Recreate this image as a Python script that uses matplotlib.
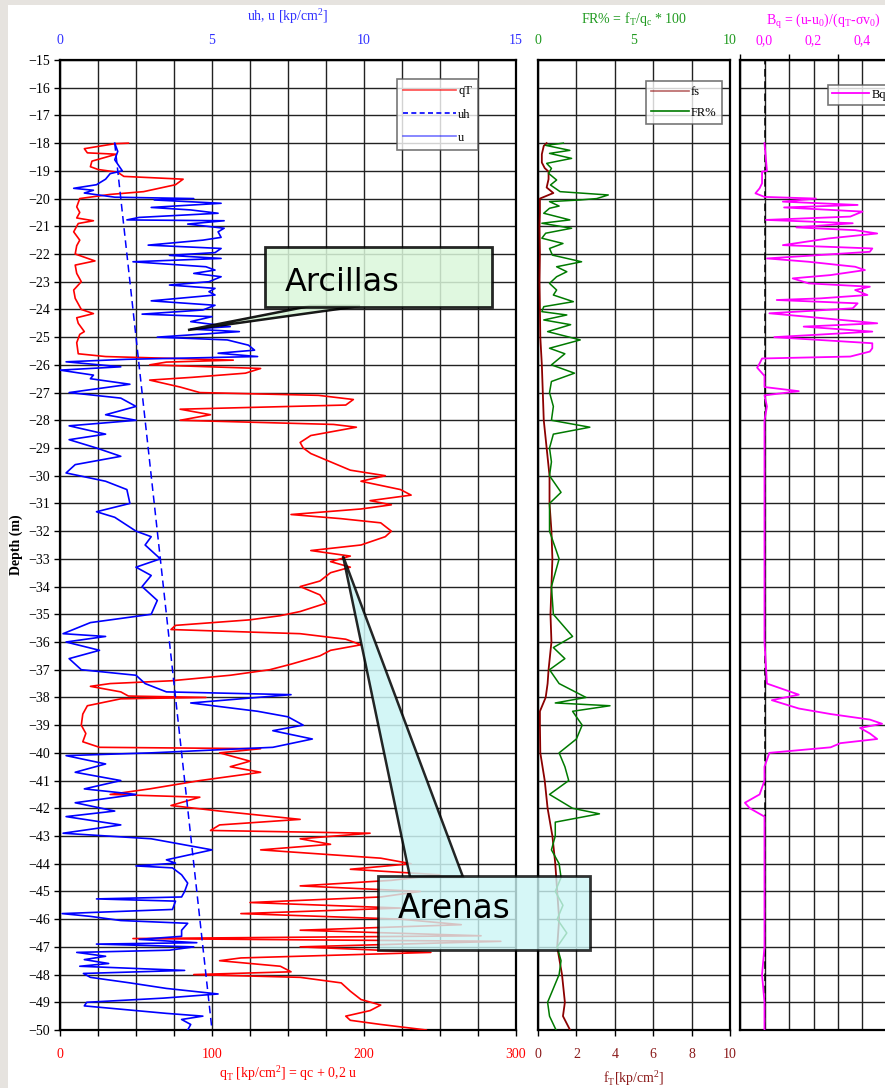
import numpy as np
import matplotlib
matplotlib.use("Agg")
import matplotlib.pyplot as plt
from matplotlib.patches import Polygon, Rectangle
from matplotlib.lines import Line2D

# ---------------- CPTu sounding data ----------------
# cone resistance qT [kp/cm2]
qt_depth = [-18.00, -18.02, -18.20, -18.35, -18.40, -18.65, -18.85, -18.95, -19.05, -19.20,
            -19.30, -19.50, -19.75, -19.85, -20.00, -20.30, -20.50, -20.70, -20.80, -20.90,
            -21.20, -21.50, -21.70, -22.00, -22.25, -22.40, -22.70, -23.00, -23.30, -23.60,
            -24.00, -24.15, -24.30, -24.50, -24.80, -24.90, -25.20, -25.60, -25.70, -25.83,
            -25.90, -26.00, -26.13, -26.30, -26.45, -26.55, -26.80, -27.00, -27.10, -27.25,
            -27.45, -27.60, -27.80, -28.00, -28.15, -28.25, -28.40, -28.55, -28.80, -29.00,
            -29.20, -29.50, -29.80, -30.00, -30.20, -30.50, -30.70, -30.90, -31.05, -31.20,
            -31.40, -31.55, -31.70, -32.00, -32.20, -32.50, -32.70, -32.90, -33.10, -33.30,
            -33.50, -33.80, -34.00, -34.30, -34.60, -34.90, -35.05, -35.20, -35.40, -35.55,
            -35.70, -35.90, -36.10, -36.30, -36.50, -36.80, -37.00, -37.20, -37.40, -37.50,
            -37.60, -37.80, -37.95, -38.00, -38.05, -38.30, -38.60, -39.00, -39.30, -39.60,
            -39.80, -39.85, -40.00, -40.30, -40.50, -40.70, -41.00, -41.30, -41.50, -41.60,
            -41.90, -42.10, -42.40, -42.60, -42.80, -42.90, -43.10, -43.30, -43.50, -43.80,
            -44.00, -44.20, -44.40, -44.60, -44.80, -45.00, -45.20, -45.40, -45.60, -45.80,
            -46.00, -46.20, -46.40, -46.60, -46.70, -46.80, -47.00, -47.20, -47.40, -47.50,
            -47.70, -47.90, -48.00, -48.10, -48.30, -48.60, -48.90, -49.10, -49.30, -49.50,
            -49.65, -49.80, -50.00]
qt_vals = [45, 36, 16, 18, 37, 21, 20, 25, 38, 42,
           81, 76, 55, 33, 13, 11, 13, 11, 22, 12,
           9, 13, 11, 10, 23, 10, 11, 14, 9, 10,
           14, 22, 11, 12, 16, 13, 11, 12, 30, 114,
           70, 59, 132, 122, 87, 59, 79, 92, 170, 193,
           188, 79, 99, 79, 180, 195, 180, 165, 158, 160,
           165, 178, 191, 214, 198, 224, 231, 204, 218, 198,
           152, 185, 211, 218, 214, 198, 165, 191, 178, 191,
           178, 171, 158, 171, 175, 158, 145, 125, 76, 73,
           158, 188, 198, 178, 171, 152, 138, 112, 73, 33,
           20, 40, 45, 96, 40, 18, 15, 14, 17, 15,
           26, 132, 105, 125, 112, 132, 92, 59, 33, 92,
           73, 105, 158, 105, 99, 204, 158, 178, 132, 211,
           231, 191, 250, 218, 158, 237, 211, 125, 224, 119,
           224, 264, 158, 277, 48, 290, 158, 244, 119, 105,
           145, 152, 88, 158, 185, 191, 198, 211, 204, 188,
           191, 211, 241]

# pore pressure u [kp/cm2]
u_depth = [-18.00, -18.30, -18.60, -19.00, -19.10, -19.30, -19.50, -19.63, -19.70, -19.80,
           -19.95, -20.00, -20.05, -20.17, -20.32, -20.41, -20.53, -20.68, -20.77, -20.80,
           -20.92, -21.07, -21.20, -21.40, -21.50, -21.68, -21.80, -21.95, -22.05, -22.16,
           -22.28, -22.46, -22.58, -22.70, -22.82, -23.00, -23.12, -23.24, -23.36, -23.48,
           -23.69, -23.85, -24.02, -24.17, -24.26, -24.44, -24.62, -24.71, -24.80, -25.00,
           -25.10, -25.29, -25.47, -25.58, -25.70, -25.80, -25.89, -26.07, -26.19, -26.37,
           -26.50, -26.70, -27.00, -27.20, -27.50, -27.80, -28.00, -28.20, -28.50, -28.70,
           -29.00, -29.30, -29.60, -29.90, -30.20, -30.50, -31.00, -31.30, -31.50, -32.00,
           -32.20, -32.50, -33.00, -33.30, -33.60, -34.00, -34.50, -35.00, -35.30, -35.70,
           -35.80, -36.00, -36.30, -36.60, -37.00, -37.20, -37.50, -37.80, -37.90, -38.20,
           -38.50, -38.70, -39.00, -39.20, -39.50, -39.80, -40.00, -40.10, -40.40, -40.70,
           -41.00, -41.30, -41.50, -41.80, -42.10, -42.30, -42.60, -42.90, -43.10, -43.50,
           -43.86, -43.98, -44.08, -44.15, -44.40, -44.70, -45.00, -45.20, -45.27, -45.35,
           -45.65, -45.80, -45.90, -46.05, -46.15, -46.40, -46.62, -46.73, -46.85, -46.90,
           -47.00, -47.12, -47.20, -47.34, -47.46, -47.60, -47.70, -47.85, -47.96, -48.10,
           -48.30, -48.50, -48.70, -48.85, -49.00, -49.13, -49.40, -49.50, -49.62, -49.80,
           -50.00]
u_vals = [1.8, 1.9, 1.8, 2.05, 1.65, 1.5, 1.2, 0.45, 1.1, 0.8,
          1.8, 4.4, 3.1, 5.3, 3.0, 4.3, 5.2, 2.6, 2.2, 5.4,
          4.2, 5.4, 5.2, 5.3, 4.7, 2.9, 5.3, 5.1, 3.6, 5.3,
          2.4, 4.8, 5.1, 4.4, 5.3, 4.9, 3.6, 5.1, 4.9, 5.1,
          3.0, 5.1, 4.7, 2.7, 5.0, 4.3, 5.6, 4.3, 5.9, 3.2,
          5.5, 6.2, 6.4, 5.2, 6.5, 2.2, 0.2, 2.0, 0.0, 1.1,
          1.0, 2.3, 0.3, 2.0, 2.5, 1.5, 2.5, 0.3, 1.5, 0.3,
          1.2, 2.0, 0.5, 0.2, 1.5, 2.2, 2.3, 1.2, 1.8, 2.5,
          3.0, 2.8, 3.3, 2.5, 3.0, 2.7, 3.2, 3.0, 1.0, 0.1,
          1.5, 0.2, 1.3, 0.3, 0.7, 2.5, 2.8, 3.5, 7.6, 4.3,
          6.5, 7.5, 8.0, 7.0, 8.3, 7.0, 3.0, 0.2, 1.5, 0.5,
          2.0, 0.8, 2.5, 0.5, 1.8, 0.2, 2.0, 0.1, 3.0, 5.0,
          3.5, 3.8, 2.5, 3.7, 4.0, 4.2, 4.1, 4.0, 1.2, 3.8,
          3.7, 0.07, 1.0, 2.0, 4.2, 4.0, 4.0, 2.6, 4.5, 1.2,
          4.4, 3.6, 0.55, 1.5, 0.8, 1.6, 0.65, 4.1, 0.77, 1.0,
          2.3, 3.5, 5.2, 3.4, 0.88, 0.8, 3.5, 4.7, 4.0, 4.3,
          4.2]

# hydrostatic pressure uh [kp/cm2]
uh_depth = [-18.0, -50.0]
uh_vals = [1.8, 5.0]

# sleeve friction fs [kp/cm2]
fs_depth = [-18.0, -18.1, -18.4, -18.7, -18.9, -19.03, -19.3, -19.6, -19.8, -20.0,
            -20.5, -21.0, -22.0, -23.0, -24.0, -25.0, -26.0, -27.0, -28.0, -29.0,
            -30.0, -31.0, -32.0, -33.0, -34.0, -35.0, -36.0, -37.0, -37.5, -38.0,
            -38.5, -39.0, -40.0, -41.0, -42.0, -43.0, -44.0, -45.0, -46.0, -47.0,
            -48.0, -49.0, -49.5, -50.0]
fs_vals = [0.45, 0.3, 0.2, 0.2, 0.35, 0.55, 0.55, 0.45, 0.8, 0.1,
           0.1, 0.08, 0.1, 0.08, 0.1, 0.12, 0.2, 0.25, 0.3, 0.45,
           0.6, 0.6, 0.7, 0.75, 0.7, 0.65, 0.7, 0.55, 0.5, 0.4,
           0.1, 0.1, 0.12, 0.35, 0.5, 0.75, 0.9, 1.0, 1.1, 1.0,
           1.25, 1.4, 1.3, 1.67]

# friction ratio FR [%]
fr_depth = [-18.00, -18.08, -18.26, -18.37, -18.55, -18.73, -18.91, -19.09, -19.33, -19.51,
            -19.75, -19.87, -20.00, -20.05, -20.11, -20.27, -20.35, -20.53, -20.77, -20.89,
            -21.07, -21.25, -21.43, -21.62, -21.80, -22.04, -22.28, -22.46, -22.64, -22.82,
            -23.06, -23.30, -23.48, -23.72, -23.90, -24.08, -24.20, -24.38, -24.55, -24.80,
            -25.10, -25.40, -25.60, -26.00, -26.30, -26.60, -27.00, -27.50, -28.00, -28.25,
            -28.50, -29.00, -29.50, -30.00, -30.60, -31.00, -32.00, -33.00, -34.00, -35.00,
            -35.80, -36.20, -36.60, -37.00, -37.50, -38.00, -38.20, -38.30, -38.50, -39.00,
            -39.50, -40.00, -40.50, -41.00, -41.50, -42.00, -42.20, -42.50, -43.00, -43.50,
            -44.00, -44.50, -45.00, -45.50, -46.00, -46.50, -47.00, -47.50, -48.00, -48.50,
            -49.00, -49.50, -50.00]
fr_vals = [1.32, 0.4, 1.66, 0.6, 1.75, 0.45, 0.7, 0.55, 0.97, 0.65,
           1.15, 3.66, 3.06, 2.2, 0.6, 1.1, 0.6, 0.3, 1.66, 0.2,
           1.75, 0.4, 0.2, 1.3, 0.6, 0.75, 2.27, 0.97, 1.5, 0.97,
           0.6, 0.97, 0.8, 1.84, 0.3, 0.2, 1.5, 0.3, 1.7, 0.5,
           2.2, 0.6, 1.4, 0.7, 1.9, 0.7, 0.6, 0.8, 0.7, 2.7,
           0.8, 0.6, 0.7, 0.6, 1.2, 0.6, 0.6, 1.1, 0.7, 0.8,
           1.8, 0.8, 1.4, 0.6, 1.1, 2.5, 0.9, 3.75, 1.8, 2.3,
           2.0, 1.1, 1.4, 1.6, 0.6, 1.8, 3.2, 0.9, 0.9, 0.7,
           1.1, 1.2, 0.9, 1.3, 1.0, 1.5, 1.0, 1.2, 1.1, 0.8,
           0.5, 0.6, 0.94]

# pore pressure ratio Bq [-]
bq_depth = [-18.0, -18.5, -19.0, -19.03, -19.45, -19.63, -19.81, -19.94, -20.00, -20.11,
            -20.23, -20.32, -20.47, -20.65, -20.77, -20.89, -21.04, -21.14, -21.26, -21.44,
            -21.68, -21.80, -21.92, -22.16, -22.28, -22.46, -22.58, -22.76, -22.88, -23.06,
            -23.18, -23.30, -23.48, -23.60, -23.66, -23.78, -23.96, -24.14, -24.26, -24.50,
            -24.62, -24.80, -25.00, -25.22, -25.40, -25.52, -25.70, -25.77, -25.95, -26.10,
            -26.40, -26.80, -26.95, -27.10, -27.50, -28.00, -29.00, -30.00, -32.00, -34.00,
            -36.00, -37.50, -37.90, -38.10, -38.40, -38.60, -38.80, -38.95, -39.10, -39.30,
            -39.50, -39.65, -39.80, -40.00, -40.50, -41.00, -41.50, -41.80, -42.00, -42.30,
            -43.00, -45.00, -47.00, -48.00, -49.00, -50.00]
bq_vals = [0.0, 0.005, 0.01, -0.01, -0.01, -0.02, -0.037, 0.0, 0.21, 0.075,
           0.38, 0.08, 0.40, 0.35, 0.006, 0.36, 0.13, 0.37, 0.46, 0.26,
           0.075, 0.44, 0.43, 0.01, 0.18, 0.37, 0.41, 0.27, 0.115, 0.18,
           0.43, 0.37, 0.42, 0.23, 0.05, 0.38, 0.36, 0.02, 0.17, 0.46,
           0.16, 0.44, 0.04, 0.44, 0.44, 0.43, 0.35, -0.01, -0.02, -0.03,
           0.0, 0.0, 0.14, 0.0, 0.01, 0.0, 0.0, 0.0, 0.0, 0.0,
           0.0, 0.01, 0.14, 0.03, 0.14, 0.27, 0.43, 0.48, 0.39, 0.43,
           0.46, 0.31, 0.27, 0.02, 0.0, 0.0, -0.02, -0.08, -0.06, 0.0,
           0.0, 0.0, 0.0, -0.01, 0.0, 0.0]

# axis ticks
depth_ticks = list(range(-15, -51, -1))
qt_ticks = [0, 100, 200, 300]
u_ticks = [0, 5, 10, 15]
fr_ticks = [0, 5, 10]
ft_ticks = [0, 2, 4, 6, 8, 10]
bq_ticks = [0.0, 0.2, 0.4]

# ---------------- figure ----------------
W, H = 885, 1088
plt.rcParams['font.family'] = ['Liberation Serif', 'DejaVu Serif']
plt.rcParams['font.size'] = 10
fig = plt.figure(figsize=(W / 100, H / 100), dpi=100)
fig.patch.set_facecolor('white')


def fx(x):
    return x / W


def fy(y):
    return 1 - y / H


def box(x0, y0, x1, y1):
    return [fx(x0), fy(y1), fx(x1) - fx(x0), fy(y0) - fy(y1)]


C_RED = '#ff0000'
C_BLUE = '#0000ff'
C_BLUE_TXT = '#3030ff'
C_GREEN = '#007a00'
C_GREEN_TXT = '#1f9a1f'
C_FS = '#8b0000'
C_FS_TXT = '#8b1a1a'
C_MAG = '#ff00ff'
GRID = '#222222'

top_px, bot_px = 60, 1030


def style_axes(ax):
    ax.set_ylim(-50, -15)
    ax.set_yticks(depth_ticks)
    ax.grid(True, which='both', color=GRID, linewidth=1.0)
    ax.set_axisbelow(True)
    for s in ax.spines.values():
        s.set_linewidth(1.6)
        s.set_color('black')
    ax.tick_params(axis='both', which='both', direction='out', length=4, width=1.0)


# --- panel 1: qT and pore pressures
ax1 = fig.add_axes(box(60, top_px, 516, bot_px))
style_axes(ax1)
ax1.set_xlim(0, 300)
ax1.set_xticks(qt_ticks)
ax1.set_xticks(np.arange(0, 301, 25), minor=True)
ax1.tick_params(axis='x', colors=C_RED, labelsize=10, pad=9)
ax1.tick_params(axis='x', which='both', color='black')
ax1.tick_params(axis='y', labelsize=10, pad=3)
ax1.plot(qt_vals, qt_depth, color=C_RED, lw=1.2, zorder=3)
ax1.set_xlabel(r'q$_\mathregular{T}$ [kp/cm$^\mathregular{2}$] = qc + 0,2 u', color=C_RED,
               fontsize=10, labelpad=2)
ax1.set_ylabel('Depth (m)', fontweight='bold', fontsize=10)
ax1.yaxis.set_label_coords(-(60 - 23) / 456, 0.5)

ax1u = ax1.twiny()
ax1u.set_xlim(0, 15)
ax1u.set_ylim(-50, -15)
ax1u.set_xticks(u_ticks)
ax1u.tick_params(axis='x', colors=C_BLUE_TXT, labelsize=10, length=0, pad=9)
for s in ax1u.spines.values():
    s.set_visible(False)
ax1u.plot(uh_vals, uh_depth, color=C_BLUE, lw=1.1, ls=(0, (5, 3)), zorder=4)
ax1u.plot(u_vals, u_depth, color=C_BLUE, lw=1.2, zorder=3)
ax1u.set_xlabel(r'uh, u [kp/cm$^\mathregular{2}$]', color=C_BLUE_TXT, fontsize=10, labelpad=10)

leg1 = ax1u.legend(handles=[Line2D([], [], color=C_RED, lw=1.2, alpha=0.7),
                            Line2D([], [], color=C_BLUE, lw=1.2, ls=(0, (3, 2))),
                            Line2D([], [], color=C_BLUE, lw=1.2, alpha=0.55)],
                   labels=['qT', 'uh', 'u'], loc='upper left',
                   bbox_to_anchor=((397 - 60) / 456, 1 - (79 - 60) / 970),
                   frameon=True, fancybox=False, edgecolor='#555555', fontsize=9,
                   handlelength=4.2, handletextpad=0.2, borderpad=0.5, labelspacing=0.9,
                   borderaxespad=0)
leg1.get_frame().set_linewidth(1.2)

# --- panel 2: sleeve friction and friction ratio
ax2 = fig.add_axes(box(538, top_px, 730, bot_px))
style_axes(ax2)
ax2.set_xlim(0, 10)
ax2.set_xticks(ft_ticks)
ax2.set_xticks(np.arange(0, 10.1, 2), minor=True)
ax2.tick_params(axis='x', colors=C_FS_TXT, labelsize=10, pad=9)
ax2.tick_params(axis='x', which='both', color='black')
ax2.tick_params(axis='y', labelleft=False, length=0)
ax2.plot(fs_vals, fs_depth, color=C_FS, lw=1.3, zorder=3)
ax2.set_xlabel(r'f$_\mathregular{T}$[kp/cm$^\mathregular{2}$]', color=C_FS_TXT, fontsize=10,
               labelpad=5)

ax2f = ax2.twiny()
ax2f.set_xlim(0, 10)
ax2f.set_ylim(-50, -15)
ax2f.set_xticks(fr_ticks)
ax2f.tick_params(axis='x', colors=C_GREEN_TXT, labelsize=10, length=0, pad=9)
for s in ax2f.spines.values():
    s.set_visible(False)
ax2f.plot(fr_vals, fr_depth, color=C_GREEN, lw=1.1, zorder=3)
ax2f.set_xlabel(r'FR% = f$_\mathregular{T}$/q$_\mathregular{c}$ * 100', color=C_GREEN_TXT,
                fontsize=10, labelpad=8)
leg2 = ax2f.legend(handles=[Line2D([], [], color=C_FS, lw=1.2, alpha=0.6),
                            Line2D([], [], color=C_GREEN, lw=1.2)],
                   labels=['fs', 'FR%'], loc='upper left',
                   bbox_to_anchor=((646 - 538) / 192, 1 - (81 - 60) / 970),
                   frameon=True, fancybox=False, edgecolor='#555555', fontsize=9,
                   handlelength=3.0, handletextpad=0.2, borderpad=0.4, labelspacing=0.7,
                   borderaxespad=0)
leg2.get_frame().set_linewidth(1.2)

# --- panel 3: pore pressure ratio
ax3 = fig.add_axes(box(740, top_px, 911.5, bot_px))
style_axes(ax3)
ax3.set_xlim(-0.1, 0.6)
ax3.set_xticks(np.arange(-0.1, 0.61, 0.1), minor=True)
ax3.set_xticks(bq_ticks)
ax3.xaxis.set_ticks_position('top')
ax3.xaxis.set_label_position('top')
ax3.set_xticklabels([f'{t:.1f}'.replace('.', ',') for t in bq_ticks])
ax3.tick_params(axis='x', colors=C_MAG, labelsize=10, length=0, pad=9)
ax3.tick_params(axis='y', labelleft=False, length=0)
ax3.axvline(0.0, color='black', lw=1.1, ls=(0, (5, 3)), zorder=2)
ax3.plot(bq_vals, bq_depth, color=C_MAG, lw=1.3, zorder=3)
ax3.set_xlabel(r'B$_\mathregular{q}$ = (u-u$_\mathregular{0}$)/(q$_\mathregular{T}$-σv$_\mathregular{0}$)',
               color=C_MAG, fontsize=10)
ax3.xaxis.set_label_coords((823 - 740) / 171.5, 1 + (60 - 25) / 970)
leg3 = ax3.legend(handles=[Line2D([], [], color=C_MAG, lw=1.3)], labels=['Bq'],
                  loc='upper left', bbox_to_anchor=((828 - 740) / 171.5, 1 - (85 - 60) / 970),
                  frameon=True, fancybox=False, edgecolor='#555555', fontsize=9,
                  handlelength=3.0, handletextpad=0.2, borderpad=0.3, borderaxespad=0)
leg3.get_frame().set_linewidth(1.2)

# ---------------- soil callouts ----------------
def poly_px(pts, **kw):
    return Polygon([(fx(x), fy(y)) for x, y in pts], closed=True,
                   transform=fig.transFigure, **kw)


clay_fill = (0.86, 0.97, 0.86)
fig.patches.append(poly_px([(310, 306), (360, 306), (188, 330)], facecolor=clay_fill,
                           edgecolor='black', lw=1.8, alpha=0.9, zorder=20))
fig.patches.append(poly_px([(265, 247), (492, 247), (492, 307), (265, 307)],
                           facecolor=clay_fill, edgecolor='black', lw=2.0, alpha=0.85,
                           zorder=21))
fig.text(fx(285), fy(282), 'Arcillas', fontsize=23, family='DejaVu Sans',
         va='center', ha='left', zorder=22)

sand_fill = (0.80, 0.96, 0.96)
fig.patches.append(poly_px([(343, 556), (410, 877), (463, 877)], facecolor=sand_fill,
                           edgecolor='black', lw=1.8, alpha=0.85, zorder=20))
fig.patches.append(poly_px([(378, 876), (590, 876), (590, 950), (378, 950)],
                           facecolor=sand_fill, edgecolor='black', lw=2.0, alpha=0.8,
                           zorder=21))
fig.text(fx(398), fy(909), 'Arenas', fontsize=23.5, family='DejaVu Sans',
         va='center', ha='left', zorder=22)

# page margins of the report sheet
fig.patches.append(Rectangle((0, 0), fx(8), 1, transform=fig.transFigure,
                             facecolor='#e6e3df', edgecolor='none', zorder=0))
fig.patches.append(Rectangle((0, fy(5)), 1, fy(0) - fy(5), transform=fig.transFigure,
                             facecolor='#e6e3df', edgecolor='none', zorder=0))

fig.savefig('out.png', dpi=100)
